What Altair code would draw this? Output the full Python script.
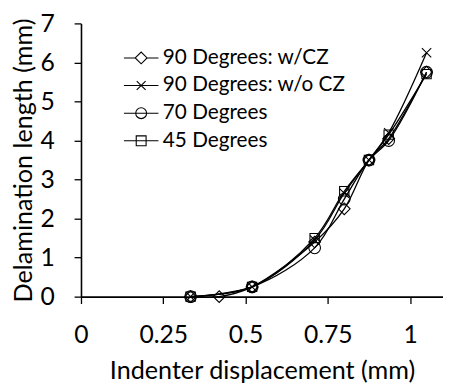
import altair as alt
import pandas as pd

series_names = ["90 Degrees: w/CZ", "90 Degrees: w/o CZ", "70 Degrees", "45 Degrees"]

x_cz = [0.333, 0.42, 0.52, 0.71, 0.80, 0.875, 0.935, 1.05]
y_cz = [0.0, 0.0, 0.25, 1.40, 2.25, 3.50, 4.05, 5.75]

x_nocz = [0.333, 0.52, 0.71, 0.80, 0.875, 0.935, 1.05]
y_nocz = [0.0, 0.25, 1.45, 2.65, 3.50, 4.20, 6.25]

x_70 = [0.333, 0.52, 0.71, 0.80, 0.875, 0.935, 1.05]
y_70 = [0.0, 0.25, 1.25, 2.50, 3.50, 4.00, 5.75]

x_45 = [0.333, 0.52, 0.71, 0.80, 0.875, 0.935, 1.05]
y_45 = [0.0, 0.25, 1.50, 2.70, 3.50, 4.15, 5.70]

x_ticks = [0, 0.25, 0.5, 0.75, 1]
y_ticks = [0, 1, 2, 3, 4, 5, 6, 7]

rows = []
for name, xs, ys in zip(series_names, [x_cz, x_nocz, x_70, x_45], [y_cz, y_nocz, y_70, y_45]):
    for i, (xv, yv) in enumerate(zip(xs, ys)):
        rows.append({"series": name, "x": xv, "y": yv, "order": i})
df = pd.DataFrame(rows)

FONT = "Lato"

plot_shapes = [
    "diamond",
    "M-0.8,-0.8L0.8,0.8M-0.8,0.8L0.8,-0.8",
    "circle",
    "M-0.8,-0.8L0.8,-0.8L0.8,0.8L-0.8,0.8Z",
]
legend_shapes = [
    "M-1.75,0L-0.6,0M0.6,0L1.75,0M-0.6,0L0,-0.6L0.6,0L0,0.6Z",
    "M-1.75,0L1.75,0M-0.45,-0.45L0.45,0.45M-0.45,0.45L0.45,-0.45",
    "M-1.75,0L1.75,0M0.55,0A0.55,0.55 0 1,1 -0.55,0A0.55,0.55 0 1,1 0.55,0Z",
    "M-1.75,0L1.75,0M-0.5,-0.5L0.5,-0.5L0.5,0.5L-0.5,0.5Z",
]

xscale = alt.Scale(domain=[0, 1.1], nice=False, zero=False)
yscale = alt.Scale(domain=[0, 7], nice=False)

xaxis = alt.Axis(values=x_ticks, title="Indenter displacement (mm)", grid=False,
                 labelExpr="format(datum.value, '~g')", labelOverlap=False)
yaxis = alt.Axis(values=y_ticks, title="Delamination length (mm)", grid=False,
                 format="d", labelOverlap=False)

X = alt.X("x:Q", scale=xscale, axis=xaxis)
Y = alt.Y("y:Q", scale=yscale, axis=yaxis)

base = alt.Chart(df)

lines = base.mark_line(color="black", strokeWidth=1.3, interpolate="catmull-rom").encode(
    x=X, y=Y, detail="series:N", order="order:Q",
)

points = base.mark_point(color="black", filled=False, strokeWidth=1.1, size=140, opacity=1).encode(
    x=X, y=Y,
    shape=alt.Shape("series:N", scale=alt.Scale(domain=series_names, range=plot_shapes), legend=None),
)

legend_layer = base.transform_filter("false").mark_point(color="black", filled=False, opacity=1).encode(
    x=X, y=Y,
    shape=alt.Shape(
        "series:N",
        scale=alt.Scale(domain=series_names, range=legend_shapes),
        sort=series_names,
        legend=alt.Legend(
            title=None, orient="none", legendX=50, legendY=24, padding=0,
            symbolSize=400, symbolStrokeColor="black", symbolFillColor="transparent",
            symbolStrokeWidth=1.1, symbolOpacity=1, labelFont=FONT, labelFontSize=21,
            labelColor="black", labelOffset=11, rowPadding=7, labelLimit=320,
        ),
    ),
)

chart = alt.layer(lines, points, legend_layer).resolve_scale(shape="independent").properties(
    width=367, height=277,
    autosize=alt.AutoSizeParams(type="none"),
    padding={"left": 74, "top": 13, "right": 0, "bottom": 90},
).configure_view(stroke=None).configure_axis(
    domainColor="black", domainWidth=1.6, tickColor="black", tickWidth=1.3, tickSize=7,
    labelFont=FONT, labelFontSize=25, labelColor="black", titleFont=FONT, titleFontSize=25.5,
    titleFontWeight="normal", titleColor="black",
).configure_axisX(
    labelPadding=20, titlePadding=11, labelBaseline="top", labelFlush=False,
).configure_axisY(
    labelPadding=20, titlePadding=4, labelFlush=False,
)

chart.save("out.html", embed_options={"renderer": "svg", "actions": False})
